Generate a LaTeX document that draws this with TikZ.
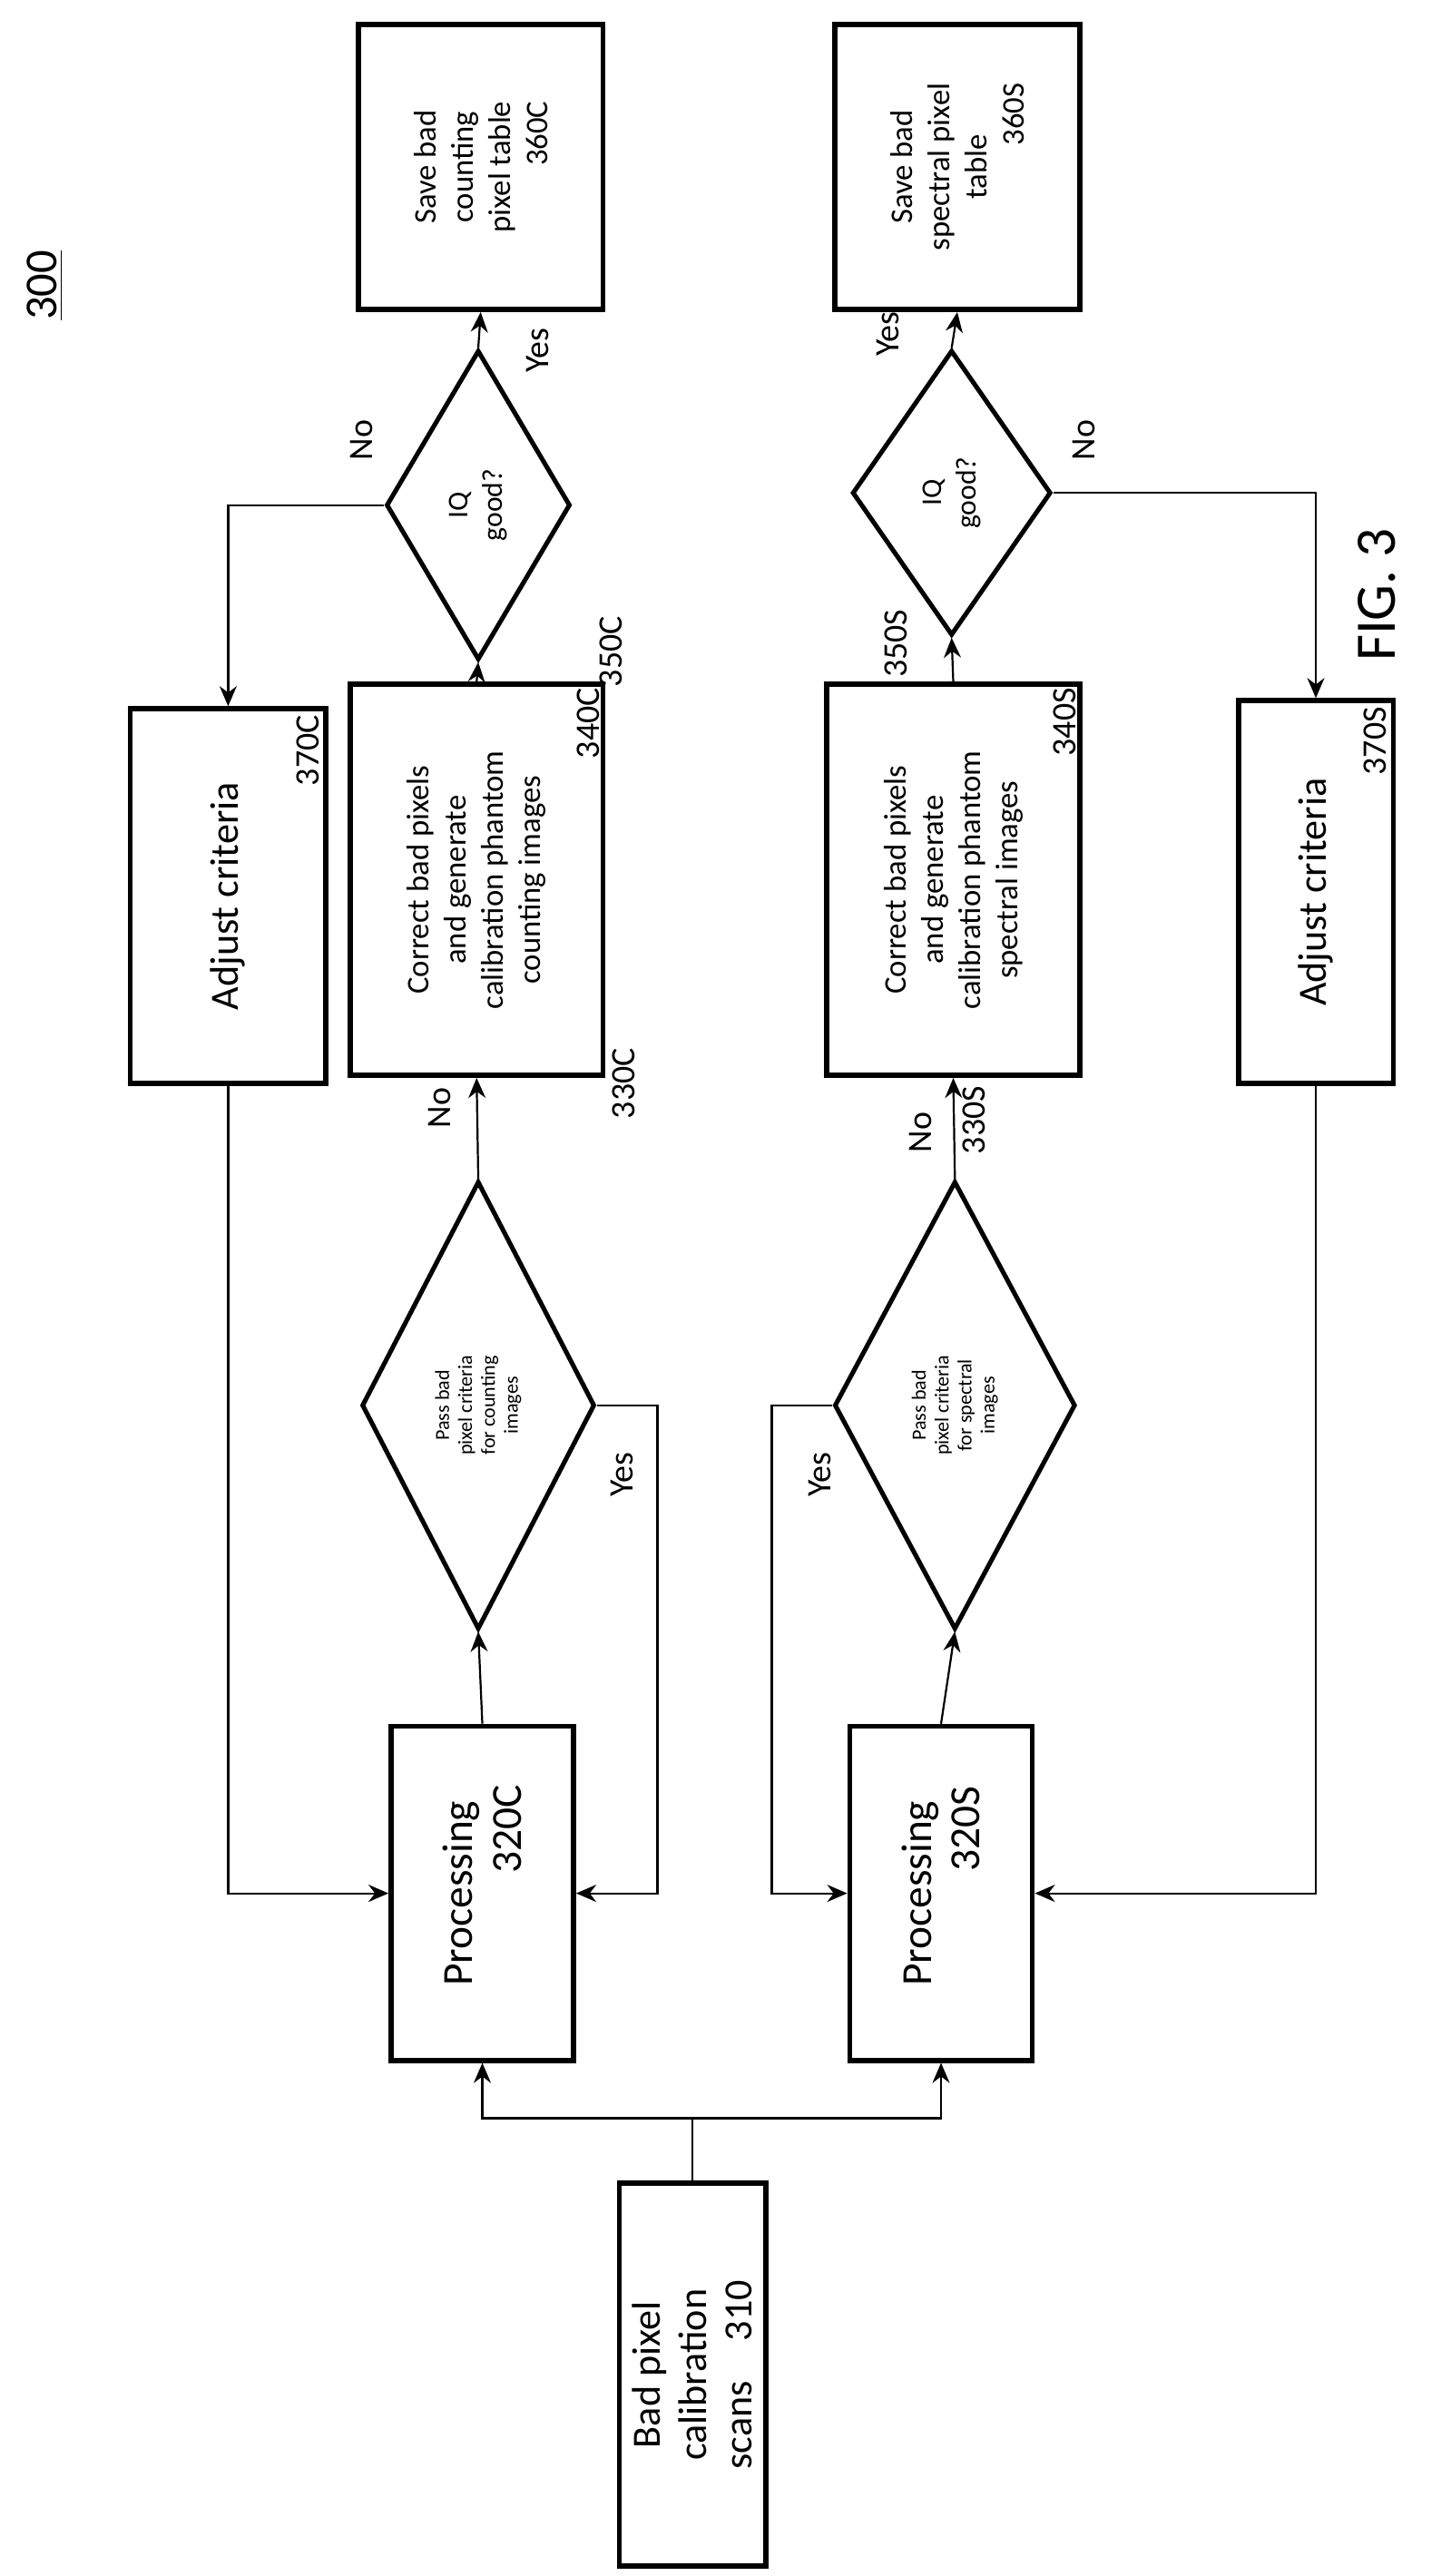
\documentclass[tikz,border=0pt]{standalone}
\usepackage{fontspec}
\setmainfont{Carlito}
\usetikzlibrary{shapes.geometric,arrows.meta}

\tikzset{
  box/.style={draw, line width=1.8pt, rotate=90, align=center, inner sep=2pt},
  dec/.style={draw, line width=1.6pt, diamond, rotate=90, align=center, inner sep=0pt},
  num/.style={rotate=90, font=\fontsize{12}{13}\selectfont, inner sep=3pt},
  lab/.style={rotate=90, font=\fontsize{12}{13}\selectfont},
  line/.style={line width=0.7pt},
  arr/.style={line, -{Stealth[length=7pt,width=6pt]}}
}

\begin{document}
\begin{tikzpicture}
  \useasboundingbox (0,0) rectangle (17.8,-31.62);

  % scans
  \node[box, minimum width=4.7cm, minimum height=1.8cm, font=\fontsize{14}{16}\selectfont] (s310) at (8.5,-29.15) {Bad pixel\\calibration\\scans\quad 310};

  % counting branch
  \node[box, minimum width=4.1cm, minimum height=2.24cm, font=\fontsize{15}{17}\selectfont] (p320C) at (5.92,-23.24) {Processing\\\hspace*{3em}320C};
  \node[dec, minimum width=5.5cm, minimum height=2.86cm, font=\fontsize{7}{8}\selectfont] (d330C) at (5.87,-17.25) {Pass bad\\pixel criteria\\for counting\\images};
  \node[box, minimum width=4.8cm, minimum height=3.1cm, font=\fontsize{11}{13}\selectfont] (c340C) at (5.85,-10.8) {Correct bad pixels\\and generate\\calibration phantom\\counting images};
  \node[num, anchor=south east, inner sep=2pt] at (c340C.south east) {340C};
  \node[dec, minimum width=3.8cm, minimum height=2.26cm, font=\fontsize{10}{12}\selectfont] (d350C) at (5.87,-6.2) {IQ\\good?};
  \node[box, minimum width=3.5cm, minimum height=3.0cm, font=\fontsize{11}{13}\selectfont] (s360C) at (5.9,-2.05) {Save bad\\counting\\pixel table\\\hfill 360C};
  \node[box, minimum width=4.6cm, minimum height=2.4cm, font=\fontsize{14}{16}\selectfont] (a370C) at (2.8,-11.0) {Adjust criteria};
  \node[num, anchor=south east] at (a370C.south east) {370C};

  % spectral branch
  \node[box, minimum width=4.1cm, minimum height=2.24cm, font=\fontsize{15}{17}\selectfont] (p320S) at (11.55,-23.24) {Processing\\\hspace*{3em}320S};
  \node[dec, minimum width=5.5cm, minimum height=2.96cm, font=\fontsize{7}{8}\selectfont] (d330S) at (11.72,-17.25) {Pass bad\\pixel criteria\\for spectral\\images};
  \node[box, minimum width=4.8cm, minimum height=3.1cm, font=\fontsize{11}{13}\selectfont] (c340S) at (11.7,-10.8) {Correct bad pixels\\and generate\\calibration phantom\\spectral images};
  \node[num, anchor=south east, inner sep=2pt] at (c340S.south east) {340S};
  \node[dec, minimum width=3.5cm, minimum height=2.44cm, font=\fontsize{10}{12}\selectfont] (d350S) at (11.68,-6.05) {IQ\\good?};
  \node[box, minimum width=3.5cm, minimum height=3.0cm, font=\fontsize{11}{13}\selectfont] (s360S) at (11.75,-2.05) {Save bad\\spectral pixel\\table\\\hfill 360S};
  \node[box, minimum width=4.7cm, minimum height=1.9cm, font=\fontsize{14}{16}\selectfont] (a370S) at (16.15,-10.95) {Adjust criteria};
  \node[num, anchor=south east] at (a370S.south east) {370S};

  % numbers next to diamonds
  \node[num] at (7.65,-13.3) {330C};
  \node[num] at (11.95,-13.75) {330S};
  \node[num] at (7.5,-8.0) {350C};
  \node[num] at (11.0,-7.9) {350S};

  % connectors
  \coordinate (split) at (s310.east |- 0,-26.0);
  \draw[line] (s310.east) -- (split);
  \draw[arr] (split) -| (p320C.west);
  \draw[arr] (split) -| (p320S.west);

  \draw[arr] (p320C.east) -- (d330C.west);
  \draw[arr] (d330C.south) -- ++(0.74,0) |- (p320C.south);
  \draw[arr] (d330C.east) -- (c340C.west);
  \draw[arr] (c340C.east) -- (d350C.west);
  \draw[arr] (d350C.east) -- (s360C.west);
  \draw[arr] (d350C.north) -| (a370C.east);
  \draw[arr] (a370C.west) |- (p320C.north);

  \draw[arr] (p320S.east) -- (d330S.west);
  \draw[arr] (d330S.north) -- ++(-0.74,0) |- (p320S.north);
  \draw[arr] (d330S.east) -- (c340S.west);
  \draw[arr] (c340S.east) -- (d350S.west);
  \draw[arr] (d350S.east) -- (s360S.west);
  \draw[arr] (d350S.south) -| (a370S.east);
  \draw[arr] (a370S.west) |- (p320S.south);

  % branch labels
  \node[lab] at (7.64,-18.1) {Yes};
  \node[lab] at (5.4,-13.6) {No};
  \node[lab] at (6.6,-4.3) {Yes};
  \node[lab] at (4.44,-5.4) {No};
  \node[lab] at (10.06,-18.1) {Yes};
  \node[lab] at (11.3,-13.9) {No};
  \node[lab] at (10.9,-4.1) {Yes};
  \node[lab] at (13.3,-5.4) {No};

  % figure marks
  \node[rotate=90, font=\fontsize{20}{22}\selectfont] at (16.9,-7.3) {FIG. 3};
  \node[rotate=90, font=\fontsize{16}{18}\selectfont] at (0.55,-3.5) {\underline{300}};
\end{tikzpicture}
\end{document}
